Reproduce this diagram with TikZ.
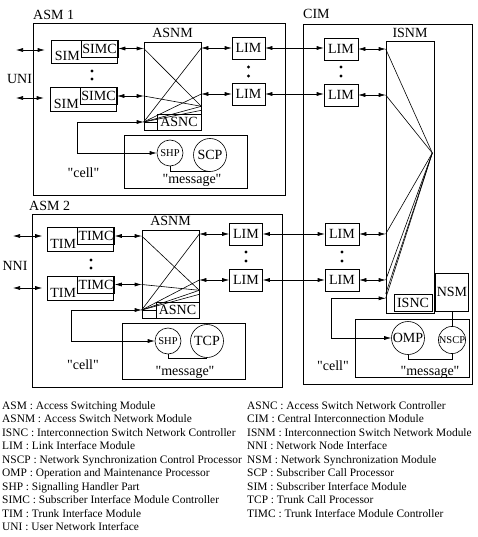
\documentclass[tikz,border=0pt]{standalone}
\usepackage{fontspec}
\setmainfont{Liberation Serif}[Ligatures=TeXOff]
\usetikzlibrary{arrows.meta, calc, positioning}
\tikzset{
  modbox/.style={draw, line width=0.6pt, inner sep=0pt},
  boxtext/.style={font=\fontsize{14}{16}\selectfont, inner sep=0pt},
  smalltext/.style={font=\fontsize{10.5}{12}\selectfont, inner sep=0pt},
  proc/.style={draw, circle, line width=0.6pt, inner sep=0pt},
  link/.style={line width=0.6pt},
  dblarrow/.style={line width=0.6pt, {Latex[length=7pt,width=4pt]}-{Latex[length=7pt,width=4pt]}},
  legtext/.style={font=\fontsize{11.4}{13}\selectfont, anchor=base west, inner sep=0pt}
}

\begin{document}
\begin{tikzpicture}[x=1pt, y=-1pt]
  \useasboundingbox (0,0) rectangle (477,537);

  % ---- ASM 1 ----
  \node[modbox, minimum width=252pt, minimum height=172pt] (asm1) at (159,109) {};
  \node[boxtext, anchor=base west] (asm1lbl) at (33,19.5) {ASM 1};
  \node[boxtext] (uni) at (19.5,79) {UNI};
  \coordinate (uni1) at (16,50);
  \coordinate (uni2) at (16,98);

  \node[modbox, minimum width=66pt, minimum height=23pt] (sim1) at (84,51.5) {};
  \node[modbox, boxtext, minimum width=37pt, minimum height=17pt, anchor=north east] (simc1) at ([xshift=1pt]sim1.north east) {SIMC};
  \node[boxtext, anchor=base west] (sim1t) at ($(sim1.south west)+(4,-3)$) {SIM};
  \node[modbox, minimum width=66pt, minimum height=24pt] (sim2) at (83,99.5) {};
  \node[modbox, boxtext, minimum width=37pt, minimum height=17pt, anchor=north east] (simc2) at ([xshift=1pt]sim2.north east) {SIMC};
  \node[boxtext, anchor=base west] (sim2t) at ($(sim2.south west)+(4,-3)$) {SIM};
  \fill (92,71) circle[radius=1.7pt] (92,79) circle[radius=1.7pt];

  \node[modbox, minimum width=57pt, minimum height=88pt] (asnm1) at (172.5,86) {};
  \node[boxtext, above=3.5pt of asnm1] (asnm1lbl) {ASNM};
  \node[modbox, boxtext, minimum width=44pt, minimum height=16pt, anchor=south east] (asnc1) at (asnm1.south east) {ASNC};
  \coordinate (f1) at (asnm1.west |- asnc1.center);
  \coordinate (r1a) at ($(asnm1.south east)+(0,-24)$);
  \coordinate (r1b) at ($(asnm1.south east)+(0,-20)$);
  \draw[link] (f1) -- (asnc1.west |- f1);

  \node[modbox, boxtext, minimum width=33pt, minimum height=22pt] (lim1a) at (248.5,48) {LIM};
  \node[modbox, boxtext, minimum width=33pt, minimum height=22pt] (lim1b) at (248.5,94) {LIM};
  \fill (248.5,67) circle[radius=1.7pt] (248.5,76) circle[radius=1.7pt];

  \draw[dblarrow, shorten >=6pt] (uni1) -- (uni1 -| sim1.west);
  \draw[dblarrow, shorten >=6pt] (uni2) -- (uni2 -| sim2.west);
  \draw[dblarrow] (simc1.east) -- (simc1.east -| asnm1.west);
  \draw[dblarrow] (simc2.east) -- (simc2.east -| asnm1.west);
  \draw[dblarrow] (lim1a.west -| asnm1.east) -- (lim1a.west);
  \draw[dblarrow] (lim1b.west -| asnm1.east) -- (lim1b.west);

  % switching paths
  \draw[link] (asnm1.west |- simc1.east) -- (r1a);
  \draw[link] (asnm1.west |- simc2.east) -- (r1a);
  \draw[link] (asnm1.east |- lim1a) -- (f1);
  \draw[link] (asnm1.east |- lim1b) -- (f1);
  \draw[link] (f1) -- (r1a);
  \draw[link] (f1) -- (r1b);

  \node[modbox, minimum width=123pt, minimum height=53pt] (msg1) at (185.5,161.5) {};
  \node[proc, smalltext, minimum size=26pt] (shp1) at (170,153) {SHP};
  \node[proc, boxtext, minimum size=33pt] (scp1) at (210,155) {SCP};
  \draw[link] (shp1.south) |- (scp1.south);
  \coordinate (bend1) at (77,0);
  \draw[dblarrow] (f1) -- (bend1 |- f1) |- (shp1.west);
  \node[boxtext] (cell1) at (83.5,173) {"cell"};
  \node[boxtext] (msgtxt1) at (192,180) {"message"};

  % ---- CIM ----
  \node[modbox, minimum width=169pt, minimum height=360pt] (cim) at (387.5,204) {};
  \node[boxtext, anchor=base west] (cimlbl) at (303,18.5) {CIM};
  \node[modbox, boxtext, minimum width=34pt, minimum height=22pt] (cl1a) at (341,49) {LIM};
  \node[modbox, boxtext, minimum width=34pt, minimum height=22pt] (cl1b) at (341,95) {LIM};
  \node[modbox, boxtext, minimum width=34pt, minimum height=22pt] (cl2a) at (342,234) {LIM};
  \node[modbox, boxtext, minimum width=34pt, minimum height=22pt] (cl2b) at (342,280) {LIM};
  \fill (341,67) circle[radius=1.7pt] (341,76) circle[radius=1.7pt];
  \fill (342,252) circle[radius=1.7pt] (342,261) circle[radius=1.7pt];

  \node[modbox, minimum width=48pt, minimum height=272pt] (isnm) at (410,177) {};
  \node[boxtext, above=3pt of isnm] (isnmlbl) {ISNM};
  \node[modbox, boxtext, minimum width=38pt, minimum height=17pt, anchor=south east] (isnc) at ([xshift=-2pt,yshift=2pt]isnm.south east) {ISNC};
  \coordinate (hub) at ($(isnm.east)+(-2,-24)$);
  \coordinate (g1) at ($(isnm.south west)+(0,-15)$);

  \draw[dblarrow] (lim1a.east) -- (lim1a.east -| cl1a.west);
  \draw[dblarrow] (lim1b.east) -- (lim1b.east -| cl1b.west);
  \draw[dblarrow] (cl1a.east) -- (cl1a.east -| isnm.west);
  \draw[dblarrow] (cl1b.east) -- (cl1b.east -| isnm.west);
  \draw[dblarrow] (cl2a.east) -- (cl2a.east -| isnm.west);
  \draw[dblarrow] (cl2b.east) -- (cl2b.east -| isnm.west);

  % interconnection paths
  \draw[link] (isnm.west |- cl1a) -- (hub);
  \draw[link] (isnm.west |- cl1b) -- (hub);
  \draw[link] (isnm.west |- cl2a) -- (hub);
  \draw[link] (isnm.west |- cl2b) -- (hub);
  \draw[link] (isnm.west |- isnc.north) -- (hub);
  \draw[link] (g1) -- (hub);

  \node[modbox, boxtext, minimum width=33pt, minimum height=38pt] (nsm) at (452,292) {NSM};
  \node[modbox, minimum width=114pt, minimum height=58pt] (msg3) at (412,348) {};
  \node[proc, boxtext, minimum size=33pt] (omp) at (408,338) {OMP};
  \node[proc, smalltext, minimum size=27pt] (nscp) at (452,340) {NSCP};
  \draw[link] (nsm.south) -- (nscp.north);
  \draw[link] (omp.south) -- ++(0,4) -| (nscp.south);
  \coordinate (bend3) at (331,0);
  \draw[dblarrow] (g1) -- (bend3 |- g1) |- (omp.west);
  \node[boxtext] (cell3) at (333,366) {"cell"};
  \node[boxtext] (msgtxt3) at (430,372) {"message"};

  % ---- ASM 2 ----
  \node[modbox, minimum width=250pt, minimum height=173pt] (asm2) at (157,300.5) {};
  \node[boxtext, anchor=base west] (asm2lbl) at (29,211) {ASM 2};
  \node[boxtext] (nni) at (15,266) {NNI};
  \coordinate (nni1) at (13,236);
  \coordinate (nni2) at (13,288);

  \node[modbox, minimum width=66pt, minimum height=24pt] (tim1) at (80.5,239.5) {};
  \node[modbox, boxtext, minimum width=37pt, minimum height=17pt, anchor=north east] (timc1) at ([xshift=1pt]tim1.north east) {TIMC};
  \node[boxtext, anchor=base west] (tim1t) at ($(tim1.south west)+(3,-3)$) {TIM};
  \node[modbox, minimum width=66pt, minimum height=24pt] (tim2) at (80.5,288) {};
  \node[modbox, boxtext, minimum width=37pt, minimum height=17pt, anchor=north east] (timc2) at ([xshift=1pt]tim2.north east) {TIMC};
  \node[boxtext, anchor=base west] (tim2t) at ($(tim2.south west)+(3,-3)$) {TIM};
  \fill (91,260) circle[radius=1.7pt] (91,268) circle[radius=1.7pt];

  \node[modbox, minimum width=57pt, minimum height=88pt] (asnm2) at (170.5,274) {};
  \node[boxtext, above=3.5pt of asnm2] (asnm2lbl) {ASNM};
  \node[modbox, boxtext, minimum width=43pt, minimum height=16pt, anchor=south east] (asnc2) at (asnm2.south east) {ASNC};
  \coordinate (f2) at (asnm2.west |- asnc2.center);
  \coordinate (r2a) at ($(asnm2.south east)+(0,-28)$);
  \coordinate (r2b) at ($(asnm2.south east)+(0,-24)$);
  \draw[link] (f2) -- (asnc2.west |- f2);

  \node[modbox, boxtext, minimum width=33pt, minimum height=22pt] (lim2a) at (246,234) {LIM};
  \node[modbox, boxtext, minimum width=33pt, minimum height=22pt] (lim2b) at (246,280) {LIM};
  \fill (246,252) circle[radius=1.7pt] (246,261) circle[radius=1.7pt];

  \draw[dblarrow, shorten >=5pt] (nni1) -- (nni1 -| tim1.west);
  \draw[dblarrow, shorten >=5pt] (nni2) -- (nni2 -| tim2.west);
  \draw[dblarrow] (timc1.east) -- (timc1.east -| asnm2.west);
  \draw[dblarrow] (timc2.east) -- (timc2.east -| asnm2.west);
  \draw[dblarrow] (lim2a.west -| asnm2.east) -- (lim2a.west);
  \draw[dblarrow] (lim2b.west -| asnm2.east) -- (lim2b.west);
  \draw[dblarrow] (lim2a.east) -- (lim2a.east -| cl2a.west);
  \draw[dblarrow] (lim2b.east) -- (lim2b.east -| cl2b.west);

  % switching paths
  \draw[link] (asnm2.west |- timc1.east) -- (r2a);
  \draw[link] (asnm2.west |- timc2.east) -- (r2a);
  \draw[link] (asnm2.east |- lim2a) -- (f2);
  \draw[link] (asnm2.east |- lim2b) -- (f2);
  \draw[link] (f2) -- (r2a);
  \draw[link] (f2) -- (r2b);

  \node[modbox, minimum width=123pt, minimum height=56pt] (msg2) at (183.5,351) {};
  \node[proc, smalltext, minimum size=26pt] (shp2) at (168,341) {SHP};
  \node[proc, boxtext, minimum size=33pt] (tcp2) at (207,341) {TCP};
  \draw[link] (shp2.south) |- (tcp2.south);
  \coordinate (bend2) at (71,0);
  \draw[dblarrow] (f2) -- (bend2 |- f2) |- (shp2.west);
  \node[boxtext] (cell2) at (83,365) {"cell"};
  \node[boxtext] (msgtxt2) at (185,372) {"message"};

  % ---- legend ----
  \foreach \txt [count=\i] in {ASM : Access Switching Module, ASNM : Access Switch Network Module,
      ISNC : Interconnection Switch Network Controller, LIM : Link Interface Module,
      NSCP : Network Synchronization Control Processor, OMP : Operation and Maintenance Processor,
      SHP : Signalling Handler Part, SIMC : Subscriber Interface Module Controller,
      TIM : Trunk Interface Module, UNI : User Network Interface}
    \node[legtext] (legl\i) at (2,{409+13.55*(\i-1)}) {\txt};
  \foreach \txt [count=\i] in {ASNC : Access Switch Network Controller, CIM : Central Interconnection Module,
      ISNM : Interconnection Switch Network Module, NNI : Network Node Interface,
      NSM : Network Synchronization Module, SCP : Subscriber Call Processor,
      SIM : Subscriber Interface Module, TCP : Trunk Call Processor,
      TIMC : Trunk Interface Module Controller}
    \node[legtext] (legr\i) at (247,{409+13.55*(\i-1)}) {\txt};
\end{tikzpicture}
\end{document}
